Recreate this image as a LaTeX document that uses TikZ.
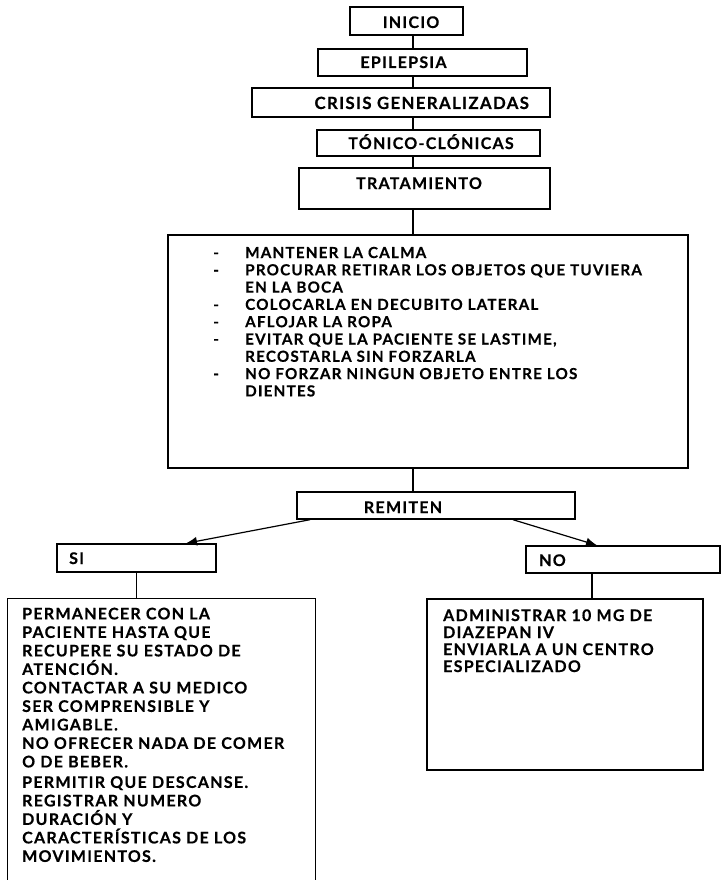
\documentclass[tikz,border=0pt]{standalone}
\usepackage{fontspec}
\setmainfont{Lato}[LetterSpace=8.0, BoldFeatures={FakeBold=0.4}]
\usetikzlibrary{arrows.meta}
\tikzset{
  caja/.style={draw, line width=1.4pt, inner sep=0pt},
  rotulo/.style={inner sep=0pt, anchor=base, font=\bfseries\fontsize{16}{17}\selectfont},
  linea/.style={line width=1.1pt},
  flecha/.style={line width=1.2pt, -{Latex[length=11pt,width=9pt]}},
}
\begin{document}
\begin{tikzpicture}[x=1pt,y=-1pt]
    \useasboundingbox (0,0) rectangle (721,880);
    \clip (0,0) rectangle (721,880);
    \fill[white] (0,0) rectangle (721,880);
    \coordinate (eje) at (413,0);
    \node[caja, minimum width=113pt, minimum height=28pt] (inicio) at (406.5,21) {};
    \node[caja, minimum width=209pt, minimum height=27pt] (epi) at (422.5,62.5) {};
    \node[caja, minimum width=298pt, minimum height=29pt] (crisis) at (401,102.5) {};
    \node[caja, minimum width=223pt, minimum height=26pt] (tonico) at (428.5,143) {};
    \node[caja, minimum width=251pt, minimum height=41pt] (trat) at (424.5,188.5) {};
    \node[caja, minimum width=520pt, minimum height=233pt] (pasos) at (428,351.5) {};
    \node[caja, minimum width=278pt, minimum height=27pt] (remiten) at (436,505.5) {};
    \node[caja, minimum width=159pt, minimum height=28pt] (si) at (136.5,558) {};
    \node[caja, minimum width=194pt, minimum height=27pt] (no) at (623,559.5) {};
    \node[caja, minimum width=308pt, minimum height=300pt, anchor=north west] (accsi) at (7,598) {};
    \node[caja, minimum width=276pt, minimum height=171pt] (accno) at (565,684.5) {};
    \node[rotulo] (inicio-t) at (411,28) {INICIO};
    \node[rotulo] (epi-t) at (403.5,68) {EPILEPSIA};
    \node[rotulo, font=\bfseries\fontsize{16.8}{17}\selectfont] (crisis-t) at (421.7,109) {CRISIS GENERALIZADAS};
    \node[rotulo] (tonico-t) at (431,149) {TÓNICO-CLÓNICAS};
    \node[rotulo] (trat-t) at (419,189) {TRATAMIENTO};
    \node[rotulo] (remiten-t) at (403,513) {REMITEN};
    \node[rotulo, anchor=base west] (si-t) at (69,564) {SI};
    \node[rotulo, anchor=base west] (no-t) at (539,566) {NO};
    \node[rotulo, anchor=base west, font=\bfseries\fontsize{15.2}{17.3}\selectfont] (pasos-t) at (213,258) {%
      \begin{tabular}[t]{@{}p{32pt}@{}l@{}}
        - & MANTENER LA CALMA\\
        - & PROCURAR RETIRAR LOS OBJETOS QUE TUVIERA\\
          & EN LA BOCA\\
        - & COLOCARLA EN DECUBITO LATERAL\\
        - & AFLOJAR LA ROPA\\
        - & EVITAR QUE LA PACIENTE SE LASTIME,\\
          & RECOSTARLA SIN FORZARLA\\
        - & NO FORZAR NINGUN OBJETO ENTRE LOS\\
          & DIENTES
      \end{tabular}};
    \node[rotulo, anchor=north west, align=left, font=\bfseries\fontsize{16}{18.5}\selectfont] (accsi-t) at (22,607.5) {%
        PERMANECER CON LA\\
        PACIENTE HASTA QUE\\
        RECUPERE SU ESTADO DE\\
        ATENCIÓN.\\
        CONTACTAR A SU MEDICO\\
        SER COMPRENSIBLE Y\\
        AMIGABLE.\\
        NO OFRECER NADA DE COMER\\
        O DE BEBER.\\[2pt]
        PERMITIR QUE DESCANSE.\\
        REGISTRAR NUMERO\\
        DURACIÓN Y\\
        CARACTERÍSTICAS DE LOS\\
        MOVIMIENTOS.};
    \node[rotulo, anchor=base west] (accno-t) at (443,621) {%
      \begin{tabular}[t]{@{}l@{}}
        ADMINISTRAR 10 MG DE\\
        DIAZEPAN IV\\
        ENVIARLA A UN CENTRO\\
        ESPECIALIZADO
      \end{tabular}};
    \draw[linea] (inicio.south -| eje) -- (epi.north -| eje);
    \draw[linea] (epi.south -| eje) -- (crisis.north -| eje);
    \draw[linea] (crisis.south -| eje) -- (tonico.north -| eje);
    \draw[linea] (tonico.south -| eje) -- (trat.north -| eje);
    \draw[linea] (trat.south -| eje) -- (pasos.north -| eje);
    \draw[linea] (pasos.south -| eje) -- (remiten.north -| eje);
    \draw[flecha] ([xshift=-126pt]remiten.south) -- ([xshift=49.5pt]si.north);
    \draw[flecha] ([xshift=77pt]remiten.south) -- ([xshift=-26pt]no.north);
    \draw[linea] (si.south) -- (si.south |- accsi.north);
    \draw[linea] ([xshift=-31pt]no.south) -- ([xshift=-31pt]no.south |- accno.north);
\end{tikzpicture}
\end{document}
